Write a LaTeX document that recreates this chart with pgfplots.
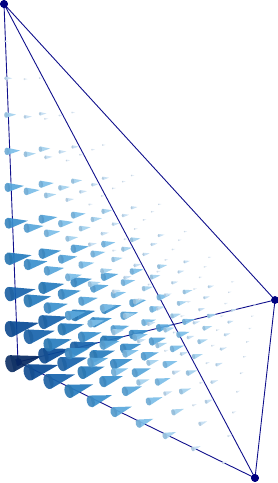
\documentclass[border=0pt]{standalone}
\usepackage{pgfplots}
\pgfplotsset{compat=1.18}
\definecolor{edgeblue}{RGB}{16,16,140}
\definecolor{dotblue}{RGB}{0,0,128}
\definecolor{greyblue}{RGB}{70,95,125}
\definecolor{c1}{RGB}{222,234,245}
\definecolor{c2}{RGB}{196,222,242}
\definecolor{c3}{RGB}{165,210,238}
\definecolor{c4}{RGB}{125,190,232}
\definecolor{c5}{RGB}{90,168,220}
\definecolor{c6}{RGB}{60,145,205}
\definecolor{c7}{RGB}{40,125,190}
\definecolor{c8}{RGB}{25,100,172}
\definecolor{c9}{RGB}{10,75,150}
\definecolor{c10}{RGB}{8,42,98}
\pgfdeclareplotmark{cone}{%
  \pgfmathsetmacro{\tipx}{0.84*\coneL}%
  \pgfmathsetmacro{\bx}{-0.25*\coneL}%
  \pgfmathsetmacro{\tx}{-0.214*\coneL}%
  \pgfmathsetmacro{\ty}{0.295*\coneL}%
  \pgfmathsetmacro{\ea}{0.19*\coneL}%
  \pgfmathsetmacro{\eb}{0.30*\coneL}%
  \pgftransformrotate{\coneA}%
  \pgfsetfillopacity{0.93}%
  \colorlet{conebody}{c\coneN}%
  \colorlet{conebase}{c\coneN!82!greyblue}%
  \pgfsetfillcolor{conebody}%
  \pgfpathmoveto{\pgfqpoint{\tipx pt}{0pt}}%
  \pgfpathlineto{\pgfqpoint{\tx pt}{\ty pt}}%
  \pgfpathlineto{\pgfqpoint{\tx pt}{-\ty pt}}%
  \pgfpathclose
  \pgfusepath{fill}%
  \pgfsetfillcolor{conebase}%
  \pgfpathellipse{\pgfqpoint{\bx pt}{0pt}}{\pgfqpoint{\ea pt}{0pt}}{\pgfqpoint{0pt}{\eb pt}}%
  \pgfusepath{fill}%
}
\begin{document}
\begin{tikzpicture}
\path[use as bounding box] (0,0) rectangle (278pt,483pt);
\begin{axis}[
  at={(0,0)}, anchor=south west,
  scale only axis, width=278pt, height=483pt,
  xmin=0, xmax=278, ymin=0, ymax=483, y dir=reverse,
  hide axis, clip=false,
]
\addplot[edgeblue, line width=0.9pt, mark=*, mark size=3.4pt, mark options={fill=dotblue,draw=dotblue}]
 coordinates {(4,4) (18,362) (255,478) (275,300) (4,4) (255,478)};
\addplot[edgeblue, line width=0.9pt] coordinates {(18,362) (275,300)};
\addplot[scatter, only marks, mark=cone, point meta={\thisrow{l}},
  visualization depends on={\thisrow{L} \as \coneL},
  visualization depends on={value \thisrow{l} \as \coneN},
  visualization depends on={atan((\thisrow{y}-70)/(1200-\thisrow{x})) \as \coneA},
] table {
x y l L
18 362 10 29
16.7 327.7 9 27.1
49.8 354.3 9 26.3
35.8 370.7 9 27.7
15.3 293 8 24.2
48.6 320.9 8 23.5
79.9 347 8 22.8
34.5 335.4 8 24.8
67.9 362.6 8 24
54.6 379.9 8 25.4
13.9 258 7 21.3
47.4 287.1 7 20.6
78.9 314.4 7 20
108.6 340.2 7 19.4
33.2 299.9 7 21.8
66.8 328.3 7 21.1
98.4 354.9 7 20.4
53.3 343.7 7 22.3
87.1 371.3 7 21.6
74.5 389.7 7 22.9
12.6 222.7 6 18.3
46.2 253 6 17.8
77.9 281.5 6 17.2
107.7 308.3 6 16.7
135.8 333.6 6 16.2
31.9 263.9 6 18.8
65.7 293.6 6 18.2
97.5 321.4 6 17.6
127.3 347.6 6 17.1
52.1 307.1 6 19.2
86.1 336.1 6 18.6
117.9 363.2 6 18
73.3 352.4 6 19.7
107.4 380.5 6 19
95.6 400 6 20.2
11.2 187.1 5 15.3
45 218.7 5 14.9
76.9 248.3 5 14.4
106.8 276.2 5 14
135.1 302.5 5 13.6
161.8 327.3 5 13.2
30.5 227.7 5 15.7
64.6 258.6 5 15.2
96.5 287.7 5 14.7
126.5 315 5 14.3
154.8 340.7 5 13.9
50.8 270.2 5 16.1
85 300.5 5 15.6
117 328.8 5 15.1
147 355.5 5 14.6
72.1 314.8 5 16.5
106.4 344.3 5 15.9
138.4 371.9 5 15.4
94.5 361.6 5 16.9
128.8 390.3 5 16.3
118 410.9 5 17.3
9.8 151.2 4 12.3
43.8 184 4 11.9
75.9 214.8 4 11.6
106 243.8 4 11.2
134.4 271.1 4 10.9
161.2 296.9 4 10.6
186.5 321.3 4 10.3
29.2 191.1 4 12.6
63.4 223.3 4 12.2
95.5 253.6 4 11.8
125.7 282.1 4 11.5
154.1 308.8 4 11.1
180.9 334.1 4 10.8
49.5 232.9 4 12.9
83.9 264.5 4 12.5
116.1 294.2 4 12.1
146.3 322 4 11.7
174.7 348.2 4 11.4
70.9 276.8 4 13.3
105.4 307.7 4 12.8
137.6 336.7 4 12.4
167.8 363.8 4 12
93.3 322.9 4 13.6
127.9 353 4 13.1
160.2 381.2 4 12.7
117 371.5 4 13.9
151.6 400.6 4 13.5
141.9 422.6 4 14.3
8.3 114.9 3 9.3
42.6 149 3 9
74.8 181 3 8.7
105.1 211.1 3 8.5
133.6 239.5 3 8.2
160.6 266.3 3 8
186 291.6 3 7.8
210.2 315.6 3 7.6
27.8 154.1 3 9.5
62.2 187.7 3 9.2
94.5 219.2 3 8.9
124.9 248.9 3 8.6
153.4 276.7 3 8.4
180.4 303 3 8.2
205.8 327.8 3 7.9
48.2 195.2 3 9.7
82.8 228.3 3 9.4
115.2 259.2 3 9.1
145.6 288.3 3 8.8
174.1 315.5 3 8.6
201 341.2 3 8.3
69.7 238.4 3 10
104.4 270.8 3 9.7
136.8 301.1 3 9.3
167.2 329.4 3 9
195.7 356.1 3 8.8
92.2 283.8 3 10.2
127 315.4 3 9.9
159.4 344.9 3 9.6
189.8 372.5 3 9.2
115.9 331.6 3 10.5
150.7 362.3 3 10.1
183.2 390.9 3 9.8
140.9 381.9 3 10.8
175.7 411.6 3 10.4
167.3 435.1 3 11.1
6.9 78.3 2 6.2
41.4 113.7 2 6
73.8 146.9 2 5.8
104.2 178.2 2 5.7
132.9 207.6 2 5.5
159.9 235.4 2 5.4
185.5 261.7 2 5.2
209.8 286.6 2 5.1
232.7 310.2 2 4.9
26.4 116.8 2 6.4
61.1 151.8 2 6.2
93.6 184.6 2 6
124.1 215.4 2 5.8
152.8 244.3 2 5.6
179.8 271.7 2 5.5
205.4 297.5 2 5.3
229.5 321.9 2 5.2
46.9 157.2 2 6.5
81.7 191.7 2 6.3
114.3 224 2 6.1
144.8 254.2 2 5.9
173.5 282.6 2 5.7
200.5 309.4 2 5.6
226 334.6 2 5.4
68.4 199.7 2 6.7
103.3 233.5 2 6.5
136 265.2 2 6.3
166.5 294.8 2 6.1
195.1 322.6 2 5.9
222.1 348.8 2 5.7
91.1 244.3 2 6.9
126 277.4 2 6.6
158.7 308.4 2 6.4
189.2 337.3 2 6.2
217.8 364.4 2 6
114.9 291.3 2 7
149.9 323.6 2 6.8
182.5 353.7 2 6.6
213 381.8 2 6.3
140 340.8 2 7.2
175 372.2 2 7
207.6 401.3 2 6.7
166.5 393.1 2 7.4
201.5 423.3 2 7.2
194.5 448.4 2 7.7
5.5 41.3 1 3.1
40.1 78.1 1 3
72.7 112.5 1 2.9
103.3 145 1 2.8
132.1 175.5 1 2.8
159.3 204.3 1 2.7
185 231.6 1 2.6
209.4 257.3 1 2.5
232.4 281.8 1 2.5
254.3 305 1 2.4
25 79.1 1 3.2
59.9 115.5 1 3.1
92.6 149.6 1 3
123.2 181.6 1 2.9
152.1 211.7 1 2.8
179.3 240.1 1 2.7
204.9 266.8 1 2.7
229.2 292.2 1 2.6
252.2 316.1 1 2.5
45.6 118.8 1 3.3
80.6 154.7 1 3.2
113.3 188.3 1 3.1
144 219.8 1 3
172.9 249.4 1 2.9
200 277.3 1 2.8
225.6 303.5 1 2.7
249.8 328.4 1 2.6
67.2 160.5 1 3.4
102.3 195.9 1 3.2
135.1 228.9 1 3.1
165.8 259.8 1 3
194.6 288.9 1 2.9
221.7 316.1 1 2.9
247.2 341.8 1 2.8
89.9 204.4 1 3.5
125.1 239.1 1 3.3
157.9 271.5 1 3.2
188.6 301.7 1 3.1
217.3 330 1 3
244.3 356.7 1 2.9
113.8 250.5 1 3.5
149.1 284.5 1 3.4
181.9 316.1 1 3.3
212.5 345.6 1 3.2
241.1 373.1 1 3.1
139 299.2 1 3.6
174.3 332.3 1 3.5
207 363 1 3.4
237.5 391.6 1 3.3
165.7 350.7 1 3.7
200.9 382.7 1 3.6
233.5 412.3 1 3.5
193.8 405.1 1 3.8
228.9 435.8 1 3.7
223.7 462.7 1 4
};
\end{axis}
\end{tikzpicture}
\end{document}
